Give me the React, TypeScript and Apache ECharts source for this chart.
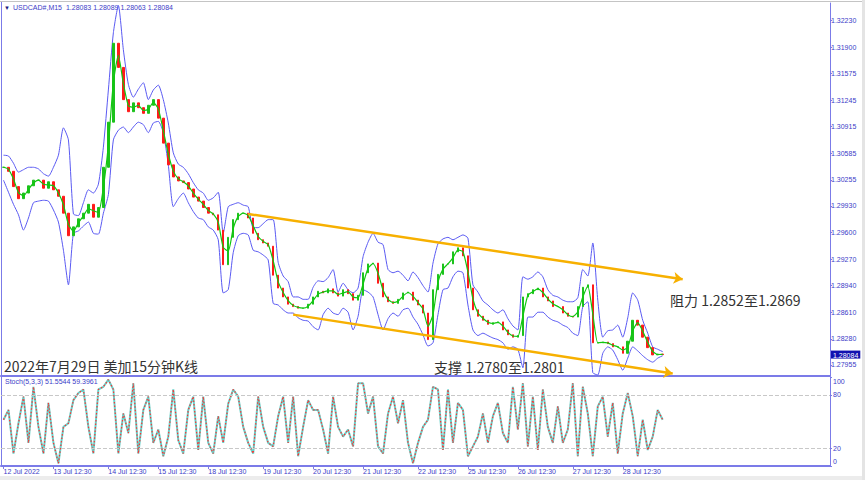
import React, { useEffect, useRef } from 'react';
import * as echarts from 'echarts';

const CLOSE = [
  1.3041, 1.3036, 1.3017, 1.3002, 1.3009, 1.3018, 1.3025, 1.3025, 1.3015, 1.3023,
  1.3013, 1.3005, 1.2984, 1.2956, 1.2967, 1.2977, 1.2984, 1.2995, 1.2979, 1.2991,
  1.3041, 1.3097, 1.3195, 1.3165, 1.3125, 1.3110, 1.3121, 1.3115, 1.3108, 1.3118,
  1.3125, 1.3102, 1.3071, 1.3044, 1.3029, 1.3024, 1.3022, 1.3014, 1.3004, 1.2999,
  1.2991, 1.2984, 1.2982, 1.2963, 1.2920, 1.2954, 1.2976, 1.2984, 1.2984, 1.2978,
  1.2959, 1.2951, 1.2947, 1.2943, 1.2907, 1.2891, 1.2880, 1.2871, 1.2868, 1.2866,
  1.2866, 1.2871, 1.2880, 1.2887, 1.2885, 1.2890, 1.2885, 1.2881, 1.2889, 1.2884,
  1.2876, 1.2882, 1.2910, 1.2921, 1.2922, 1.2897, 1.2880, 1.2874, 1.2872, 1.2877,
  1.2885, 1.2886, 1.2876, 1.2870, 1.2860, 1.2827, 1.2889, 1.2908, 1.2921, 1.2921,
  1.2936, 1.2941, 1.2931, 1.2891, 1.2864, 1.2856, 1.2851, 1.2846, 1.2848, 1.2849,
  1.2839, 1.2833, 1.2830, 1.2832, 1.2880, 1.2884, 1.2889, 1.2891, 1.2880, 1.2875,
  1.2868, 1.2868, 1.2860, 1.2856, 1.2855, 1.2868, 1.2892, 1.2895, 1.2823, 1.2823,
  1.2824, 1.2822, 1.2818, 1.2818, 1.2810, 1.2825, 1.2851, 1.2845, 1.2830, 1.2817,
  1.2808, 1.2809, 1.28084,
];

const UPPER_BAND = [
  1.3056, 1.3055, 1.3046, 1.3035, 1.3038, 1.3041, 1.3041, 1.3039, 1.3033, 1.3030,
  1.3041, 1.3056, 1.3090, 1.3075, 1.2983, 1.2981, 1.2997, 1.3013, 1.3009, 1.3020,
  1.3066, 1.3137, 1.3208, 1.3242, 1.3187, 1.3144, 1.3128, 1.3138, 1.3146, 1.3125,
  1.3137, 1.3143, 1.3125, 1.3096, 1.3059, 1.3045, 1.3041, 1.3033, 1.3022, 1.3013,
  1.3009, 1.3000, 1.3003, 1.3010, 1.2959, 1.2992, 1.2995, 1.2997, 1.2994, 1.2992,
  1.2966, 1.2966, 1.2971, 1.2976, 1.2976, 1.2923, 1.2906, 1.2899, 1.2880, 1.2880,
  1.2877, 1.2877, 1.2892, 1.2900, 1.2899, 1.2904, 1.2914, 1.2886, 1.2897, 1.2889,
  1.2885, 1.2891, 1.2930, 1.2948, 1.2959, 1.2948, 1.2945, 1.2914, 1.2910, 1.2912,
  1.2907, 1.2900, 1.2911, 1.2904, 1.2894, 1.2886, 1.2922, 1.2946, 1.2952, 1.2954,
  1.2951, 1.2954, 1.2957, 1.2953, 1.2895, 1.2886, 1.2875, 1.2870, 1.2864, 1.2860,
  1.2864, 1.2853, 1.2844, 1.2839, 1.2905, 1.2902, 1.2905, 1.2911, 1.2905, 1.2889,
  1.2882, 1.2880, 1.2876, 1.2874, 1.2874, 1.2879, 1.2914, 1.2906, 1.2947, 1.2876,
  1.2830, 1.2838, 1.2839, 1.2845, 1.2830, 1.2854, 1.2885, 1.2876, 1.2851, 1.2835,
  1.2818, 1.2815, 1.2812,
];

const LOWER_BAND = [
  1.3025, 1.3010, 1.2995, 1.2982, 1.2963, 1.2978, 1.2997, 1.2999, 1.3000, 1.2999,
  1.2988, 1.2973, 1.2938, 1.2895, 1.2959, 1.2962, 1.2968, 1.2973, 1.2959, 1.2958,
  1.2984, 1.3007, 1.3075, 1.3087, 1.3091, 1.3084, 1.3091, 1.3097, 1.3094, 1.3084,
  1.3096, 1.3098, 1.3084, 1.3044, 1.2992, 1.3002, 1.3009, 1.2997, 1.2986, 1.2978,
  1.2976, 1.2967, 1.2963, 1.2951, 1.2885, 1.2889, 1.2935, 1.2956, 1.2959, 1.2957,
  1.2938, 1.2936, 1.2932, 1.2926, 1.2872, 1.2870, 1.2864, 1.2860, 1.2860, 1.2854,
  1.2851, 1.2850, 1.2843, 1.2839, 1.2858, 1.2866, 1.2860, 1.2858, 1.2866, 1.2861,
  1.2839, 1.2856, 1.2889, 1.2886, 1.2880, 1.2858, 1.2839, 1.2853, 1.2860, 1.2856,
  1.2864, 1.2866, 1.2855, 1.2846, 1.2833, 1.2819, 1.2823, 1.2858, 1.2889, 1.2891,
  1.2905, 1.2912, 1.2910, 1.2870, 1.2839, 1.2832, 1.2835, 1.2832, 1.2829, 1.2827,
  1.2823, 1.2815, 1.2818, 1.2815, 1.2792, 1.2855, 1.2855, 1.2861, 1.2861, 1.2855,
  1.2851, 1.2849, 1.2845, 1.2842, 1.2835, 1.2832, 1.2868, 1.2874, 1.2786, 1.2783,
  1.2810, 1.2818, 1.2814, 1.2802, 1.2789, 1.2804, 1.2818, 1.2813, 1.2807, 1.2802,
  1.2799, 1.2804, 1.2807,
];

const STOCH_K = [
  52, 63, 14, 48, 78, 26, 89, 44, 14, 71,
  26, 3, 44, 48, 74, 82, 86, 44, 14, 86,
  89, 97, 86, 14, 59, 37, 93, 14, 63, 78,
  26, 41, 11, 33, 86, 29, 14, 63, 78, 18,
  78, 26, 14, 56, 26, 70, 86, 78, 44, 26,
  14, 78, 44, 26, 22, 56, 78, 26, 78, 11,
  44, 74, 63, 63, 41, 14, 78, 44, 33, 41,
  22, 93, 93, 59, 78, 22, 14, 59, 78, 48,
  74, 26, 3, 26, 44, 52, 89, 86, 18, 86,
  26, 71, 63, 11, 22, 33, 59, 26, 56, 71,
  37, 26, 89, 41, 93, 22, 78, 18, 86, 44,
  26, 67, 26, 41, 93, 11, 89, 59, 11, 67,
  78, 33, 71, 14, 59, 82, 56, 11, 52, 18,
  33, 63, 52,
];

const DATE_LABELS = [
  '12 Jul 2022', '13 Jul 12:30', '14 Jul 12:30', '15 Jul 12:30', '18 Jul 12:30',
  '19 Jul 12:30', '20 Jul 12:30', '21 Jul 12:30', '22 Jul 12:30', '25 Jul 12:30',
  '26 Jul 12:30', '27 Jul 12:30', '28 Jul 12:30',
];
const DATE_SLOTS = [0, 10, 21, 31, 41, 52, 62, 72, 83, 93, 103, 114, 124];
const SLOT_COUNT = 166;

const LAST_PRICE = 1.28084;
const PRICE_TICKS = [
  1.3223, 1.319, 1.31575, 1.31245, 1.30915, 1.30585, 1.30255, 1.2993,
  1.296, 1.2927, 1.2894, 1.2861, 1.2828, 1.27955,
];
const PRICE_MIN = 1.27818;
const PRICE_MAX = 1.3245;
const STOCH_TICKS = [100, 80, 20, 0];
const STOCH_LEVELS = [80, 20];
const HEADER_OHLC = ['1.28083', '1.28089', '1.28063', '1.28084'];
const STOCH_READOUT = ['51.5544', '59.3961'];

const TREND_UPPER = [[49, 1.2983], [136, 1.2902]];
const TREND_LOWER = [[58, 1.2858], [134, 1.2785]];

const TITLE_TEXT = '2022年7月29日 美加15分钟K线';
const SUPPORT_TEXT = '支撑 1.2780至1.2801';
const RESIST_TEXT = '阻力 1.2852至1.2869';

const AXIS_BLUE = '#7b7be8';
const TEXT_BLUE = '#3c3cc8';
const MT_FONT = 'Liberation Sans, Arial, sans-serif';
const CJK_FONT = '"Noto Sans CJK SC", sans-serif';

export default function App() {
  const ref = useRef<HTMLDivElement>(null);

  useEffect(() => {
    if (!ref.current) return;
    const chart = echarts.init(ref.current, undefined, { renderer: 'svg' });

    const categories: string[] = [];
    for (let i = 0; i < SLOT_COUNT; i++) {
      const k = DATE_SLOTS.indexOf(i);
      categories.push(k >= 0 ? DATE_LABELS[k] : '');
    }

    const candles = CLOSE.map((c, i) => {
      const o = i > 0 ? CLOSE[i - 1] : c;
      return [o, c, Math.min(o, c), Math.max(o, c)];
    });
    const mid = CLOSE.map((c, i) => {
      const o = i > 0 ? CLOSE[i - 1] : c;
      return (o + c) / 2;
    });

    const priceLabelValues = [...PRICE_TICKS, LAST_PRICE];

    const showLabel = (_i: number, v: string) => v !== '';

    const trendStyle = {
      color: '#f7b000',
      width: 2.5,
      type: 'solid' as const,
    };

    chart.setOption({
      animation: false,
      backgroundColor: '#ffffff',
      grid: [
        { left: 1, right: 35, top: 3, height: 373 },
        { left: 1, right: 35, top: 377, height: 89 },
      ],
      xAxis: [
        {
          type: 'category',
          gridIndex: 0,
          data: categories,
          boundaryGap: true,
          axisLine: { show: true, lineStyle: { color: AXIS_BLUE, width: 2 } },
          axisTick: { show: false },
          axisLabel: { show: false },
          splitLine: { show: false },
        },
        {
          type: 'category',
          gridIndex: 1,
          data: categories,
          boundaryGap: true,
          axisLine: { show: true, lineStyle: { color: AXIS_BLUE, width: 2 } },
          axisTick: {
            show: true,
            interval: showLabel,
            alignWithLabel: true,
            length: 3,
            lineStyle: { color: AXIS_BLUE },
          },
          axisLabel: {
            interval: showLabel,
            align: 'left',
            color: TEXT_BLUE,
            fontSize: 7,
            fontFamily: MT_FONT,
            margin: 2,
          },
          splitLine: { show: false },
        },
      ],
      yAxis: [
        {
          type: 'value',
          gridIndex: 0,
          position: 'right',
          min: PRICE_MIN,
          max: PRICE_MAX,
          splitLine: { show: false },
          axisLine: { show: true, lineStyle: { color: AXIS_BLUE, width: 1 } },
          axisTick: {
            show: true,
            length: 2,
            customValues: PRICE_TICKS,
            lineStyle: { color: AXIS_BLUE },
          },
          axisLabel: {
            customValues: priceLabelValues,
            formatter: (v: number) =>
              v === LAST_PRICE ? '{cur|' + v.toFixed(5) + '}' : v.toFixed(5),
            rich: {
              cur: {
                color: '#ffffff',
                backgroundColor: '#1212b0',
                padding: [1, 2, 0, 2],
                lineHeight: 7,
                fontSize: 7,
                fontFamily: MT_FONT,
              },
            },
            color: TEXT_BLUE,
            fontSize: 7,
            fontFamily: MT_FONT,
            margin: 1,
          },
        },
        {
          type: 'value',
          gridIndex: 1,
          position: 'right',
          min: 0,
          max: 100,
          splitLine: { show: false },
          axisLine: { show: true, lineStyle: { color: AXIS_BLUE, width: 1 } },
          axisTick: {
            show: true,
            length: 2,
            customValues: STOCH_TICKS,
            lineStyle: { color: AXIS_BLUE },
          },
          axisLabel: {
            customValues: STOCH_TICKS,
            formatter: (v: number) =>
              v === 100 ? '{t|100}' : v === 0 ? '{b|0}' : String(v),
            rich: {
              t: { padding: [9, 0, 0, 0], fontSize: 7, color: TEXT_BLUE, fontFamily: MT_FONT },
              b: { padding: [0, 0, 9, 0], fontSize: 7, color: TEXT_BLUE, fontFamily: MT_FONT },
            },
            color: TEXT_BLUE,
            fontSize: 7,
            fontFamily: MT_FONT,
            margin: 3,
          },
        },
      ],
      series: [
        {
          type: 'line',
          xAxisIndex: 0,
          yAxisIndex: 0,
          data: UPPER_BAND,
          showSymbol: false,
          smooth: 0.2,
          lineStyle: { color: '#5a5af2', width: 1 },
          silent: true,
          z: 2,
        },
        {
          type: 'line',
          xAxisIndex: 0,
          yAxisIndex: 0,
          data: LOWER_BAND,
          showSymbol: false,
          smooth: 0.2,
          lineStyle: { color: '#5a5af2', width: 1 },
          silent: true,
          z: 2,
        },
        {
          type: 'candlestick',
          xAxisIndex: 0,
          yAxisIndex: 0,
          data: candles,
          barWidth: 2,
          silent: true,
          itemStyle: {
            color: '#1cc21c',
            color0: '#ff1a1a',
            borderColor: '#1cc21c',
            borderColor0: '#ff1a1a',
            borderWidth: 1,
          },
          z: 3,
          markLine: {
            silent: true,
            symbol: ['none', 'arrow'],
            symbolSize: 9,
            label: { show: false },
            lineStyle: trendStyle,
            data: [
              [
                { coord: TREND_UPPER[0], lineStyle: trendStyle },
                { coord: TREND_UPPER[1] },
              ],
              [
                { coord: TREND_LOWER[0], lineStyle: trendStyle },
                { coord: TREND_LOWER[1] },
              ],
            ],
          },
        },
        {
          type: 'line',
          xAxisIndex: 0,
          yAxisIndex: 0,
          data: mid,
          showSymbol: false,
          smooth: 0.2,
          lineStyle: { color: '#10c810', width: 1.2 },
          silent: true,
          z: 4,
        },
        {
          type: 'line',
          xAxisIndex: 1,
          yAxisIndex: 1,
          data: STOCH_K,
          showSymbol: false,
          lineStyle: { color: 'rgba(40,190,180,0.7)', width: 2 },
          silent: true,
          markLine: {
            silent: true,
            symbol: 'none',
            label: { show: false },
            lineStyle: { color: '#c8c8c8', type: 'dashed', width: 1 },
            data: STOCH_LEVELS.map((v) => ({ yAxis: v })),
          },
        },
        {
          type: 'line',
          xAxisIndex: 1,
          yAxisIndex: 1,
          data: STOCH_K,
          showSymbol: false,
          lineStyle: { color: '#ff3030', width: 1.2, type: [1.5, 2] },
          silent: true,
        },
      ],
      graphic: [
        { type: 'line', shape: { x1: 0, y1: 1.5, x2: 865, y2: 1.5 }, style: { stroke: '#c4c4c4', lineWidth: 1 } },
        { type: 'line', shape: { x1: 1.5, y1: 2, x2: 1.5, y2: 466 }, style: { stroke: AXIS_BLUE, lineWidth: 1 } },
        { type: 'rect', shape: { x: 0, y: 476, width: 865, height: 4 }, style: { fill: '#ececec' } },
        { type: 'rect', shape: { x: 862, y: 0, width: 3, height: 480 }, style: { fill: '#e4e4e4' } },
        {
          type: 'text',
          x: 4,
          y: 7.5,
          style: { text: '▼', fontSize: 6, fill: '#1a1a80', verticalAlign: 'middle', fontFamily: MT_FONT },
        },
        {
          type: 'text',
          x: 13,
          y: 7.5,
          style: {
            text: 'USDCAD#,M15  ' + HEADER_OHLC.join(' '),
            fontSize: 7,
            fill: TEXT_BLUE,
            verticalAlign: 'middle',
            fontFamily: MT_FONT,
          },
        },
        {
          type: 'text',
          x: 5,
          y: 381.5,
          style: {
            text: 'Stoch(5,3,3) ' + STOCH_READOUT.join(' '),
            fontSize: 7,
            fill: TEXT_BLUE,
            verticalAlign: 'middle',
            fontFamily: MT_FONT,
          },
        },
        {
          type: 'text',
          x: 4,
          y: 366,
          style: { text: TITLE_TEXT, fontSize: 14, fill: '#333333', verticalAlign: 'middle', fontFamily: CJK_FONT },
        },
        {
          type: 'text',
          x: 434,
          y: 366.5,
          style: { text: SUPPORT_TEXT, fontSize: 14, fill: '#333333', verticalAlign: 'middle', fontFamily: CJK_FONT },
        },
        {
          type: 'text',
          x: 670,
          y: 300,
          style: { text: RESIST_TEXT, fontSize: 14, fill: '#333333', verticalAlign: 'middle', fontFamily: CJK_FONT },
        },
      ],
    });

    return () => {
      chart.dispose();
    };
  }, []);

  return (
    <div
      ref={ref}
      style={{ position: 'absolute', left: 0, top: 0, width: 865, height: 480, background: '#ffffff' }}
    />
  );
}
